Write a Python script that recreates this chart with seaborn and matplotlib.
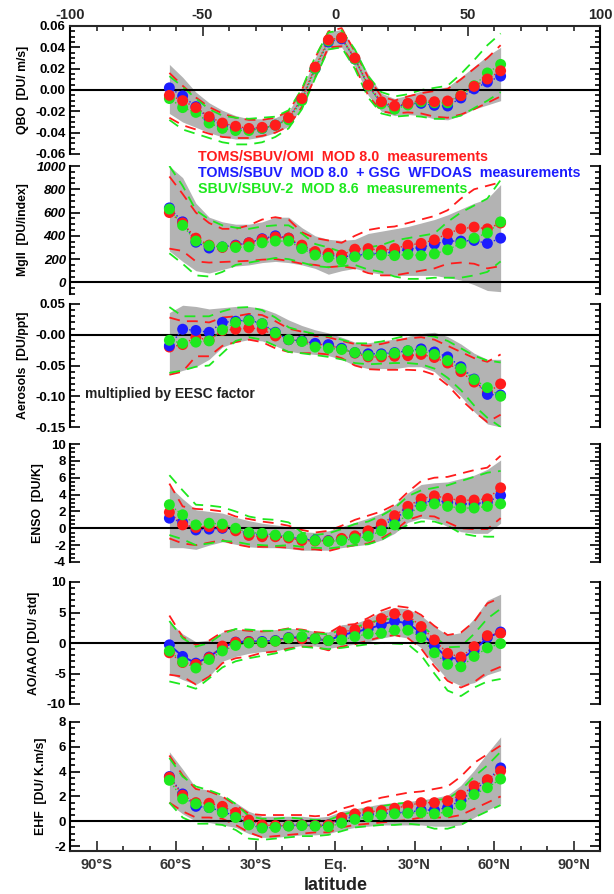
import matplotlib
matplotlib.use("Agg")
import matplotlib.pyplot as plt
from matplotlib.ticker import MultipleLocator, FixedLocator, FixedFormatter
import seaborn as sns

# latitude of each zonal band
lat = [-62.5, -57.5, -52.5, -47.5, -42.5, -37.5, -32.5, -27.5, -22.5, -17.5, -12.5, -7.5, -2.5,
       2.5, 7.5, 12.5, 17.5, 22.5, 27.5, 32.5, 37.5, 42.5, 47.5, 52.5, 57.5, 62.5]

# ---- QBO
qbo_red = [-0.005, -0.010, -0.0165, -0.025, -0.031, -0.034, -0.036, -0.035, -0.033, -0.026, -0.008, 0.0215, 0.047,
           0.049, 0.030, 0.0047, -0.011, -0.015, -0.0125, -0.0094, -0.011, -0.0103, -0.0053, 0.0034, 0.0103, 0.018]
qbo_blue = [0.002, -0.0056, -0.0156, -0.027, -0.033, -0.036, -0.037, -0.036, -0.033, -0.027, -0.009, 0.020, 0.045,
            0.048, 0.029, 0.004, -0.012, -0.016, -0.013, -0.0125, -0.0144, -0.015, -0.0075, 0.001, 0.0075, 0.013]
qbo_green = [-0.008, -0.0165, -0.021, -0.031, -0.036, -0.038, -0.038, -0.036, -0.033, -0.028, -0.010, 0.020, 0.046,
             0.049, 0.029, 0.004, -0.013, -0.018, -0.014, -0.011, -0.012, -0.012, -0.005, 0.004, 0.016, 0.024]
qbo_band_hi = [0.024, 0.012, -0.002, -0.012, -0.019, -0.024, -0.027, -0.027, -0.026, -0.020, 0.000, 0.030, 0.054,
               0.057, 0.038, 0.015, -0.003, -0.008, -0.005, -0.001, 0.001, 0.003, 0.012, 0.022, 0.032, 0.040]
qbo_band_lo = [-0.022, -0.030, -0.035, -0.040, -0.044, -0.046, -0.046, -0.044, -0.040, -0.034, -0.016, 0.012, 0.038,
               0.040, 0.022, -0.005, -0.020, -0.024, -0.023, -0.024, -0.027, -0.028, -0.024, -0.018, -0.014, -0.010]
qbo_red_hi = [0.016, 0.004, -0.007, -0.016, -0.022, -0.026, -0.028, -0.028, -0.026, -0.020, 0.000, 0.030, 0.055,
              0.058, 0.036, 0.012, -0.006, -0.010, -0.006, -0.003, -0.001, 0.001, 0.010, 0.020, 0.030, 0.042]
qbo_red_lo = [-0.026, -0.033, -0.037, -0.041, -0.044, -0.045, -0.045, -0.043, -0.040, -0.034, -0.016, 0.012, 0.040,
              0.041, 0.022, -0.005, -0.020, -0.022, -0.021, -0.022, -0.025, -0.026, -0.023, -0.018, -0.012, -0.006]
qbo_green_hi = [0.013, 0.003, -0.008, -0.018, -0.024, -0.026, -0.027, -0.026, -0.025, -0.019, 0.001, 0.031, 0.054,
                0.056, 0.038, 0.013, -0.002, -0.006, -0.004, 0.000, 0.002, 0.004, 0.015, 0.028, 0.042, 0.053]
qbo_green_lo = [-0.028, -0.037, -0.041, -0.045, -0.049, -0.051, -0.051, -0.049, -0.044, -0.036, -0.018, 0.011, 0.038,
                0.040, 0.020, -0.007, -0.022, -0.025, -0.024, -0.025, -0.027, -0.027, -0.024, -0.017, -0.010, -0.002]

# ---- MgII
mg_red = [600, 510, 380, 320, 300, 315, 340, 370, 390, 380, 320, 265, 250,
          235, 285, 290, 275, 290, 320, 335, 365, 420, 460, 475, 460, 510]
mg_blue = [640, 520, 345, 295, 305, 320, 340, 375, 400, 380, 300, 255, 235,
           220, 230, 245, 250, 260, 285, 300, 330, 355, 355, 360, 335, 380]
mg_green = [630, 490, 355, 315, 305, 300, 305, 340, 355, 355, 290, 235, 215,
            190, 220, 240, 235, 230, 240, 230, 245, 280, 335, 380, 425, 520]
mg_band_hi = [1000, 900, 680, 560, 520, 500, 500, 520, 560, 560, 470, 400, 370,
              360, 370, 420, 440, 460, 480, 510, 540, 580, 630, 680, 720, 840]
mg_band_lo = [270, 180, 100, 80, 110, 140, 150, 170, 180, 170, 150, 120, 70,
              100, 120, 90, 70, 60, 60, 60, 60, 40, 20, -20, -70, -80]
mg_red_hi = [910, 760, 600, 510, 460, 460, 490, 540, 560, 540, 430, 380, 360,
             340, 400, 450, 470, 480, 510, 540, 570, 620, 720, 800, 830, 860]
mg_red_lo = [290, 270, 180, 170, 175, 180, 185, 195, 200, 185, 160, 150, 130,
             140, 120, 80, 60, 60, 80, 100, 120, 160, 170, 160, 120, 140]
mg_green_hi = [1000, 830, 620, 540, 490, 470, 460, 480, 490, 490, 420, 330, 300,
               260, 290, 300, 320, 360, 380, 400, 420, 520, 600, 660, 720, 880]
mg_green_lo = [250, 160, 60, 50, 90, 150, 170, 190, 210, 200, 170, 140, 130,
               140, 150, 110, 90, 50, 30, 30, 40, 40, 40, 60, 90, 180]

# ---- Aerosols
aer_red = [-0.020, -0.016, -0.004, -0.009, 0.007, 0.009, 0.011, 0.009, -0.002, -0.008, -0.010, -0.015, -0.017,
           -0.023, -0.030, -0.036, -0.036, -0.035, -0.034, -0.032, -0.037, -0.046, -0.060, -0.077, -0.094, -0.080]
aer_blue = [-0.018, 0.009, 0.007, 0.004, 0.020, 0.022, 0.024, 0.018, 0.004, -0.008, -0.010, -0.014, -0.016,
            -0.022, -0.029, -0.031, -0.031, -0.029, -0.026, -0.023, -0.028, -0.036, -0.052, -0.072, -0.097, -0.098]
aer_green = [-0.009, -0.014, -0.012, -0.010, 0.008, 0.020, 0.023, 0.018, 0.003, -0.008, -0.011, -0.020, -0.022,
             -0.024, -0.029, -0.034, -0.033, -0.030, -0.026, -0.026, -0.032, -0.042, -0.055, -0.073, -0.086, -0.100]
aer_band_hi = [0.036, 0.048, 0.046, 0.042, 0.044, 0.046, 0.046, 0.043, 0.035, 0.024, 0.015, 0.008, 0.003,
               -0.004, -0.012, -0.013, -0.010, -0.007, -0.003, 0.002, 0.004, -0.003, -0.015, -0.030, -0.040, -0.040]
aer_band_lo = [-0.065, -0.058, -0.052, -0.040, -0.020, -0.012, -0.008, -0.010, -0.018, -0.027, -0.030, -0.032, -0.034,
               -0.040, -0.050, -0.055, -0.055, -0.055, -0.052, -0.052, -0.060, -0.080, -0.100, -0.125, -0.145, -0.150]
aer_red_hi = [0.028, 0.022, 0.022, 0.020, 0.028, 0.030, 0.034, 0.032, 0.022, 0.010, 0.005, -0.002, -0.004,
              -0.010, -0.015, -0.018, -0.015, -0.010, -0.006, -0.004, -0.008, -0.018, -0.028, -0.038, -0.044, -0.032]
aer_red_lo = [-0.065, -0.060, -0.035, -0.035, -0.018, -0.012, -0.008, -0.012, -0.022, -0.028, -0.030, -0.030, -0.032,
              -0.038, -0.050, -0.056, -0.057, -0.057, -0.057, -0.058, -0.065, -0.082, -0.105, -0.125, -0.142, -0.130]
aer_green_hi = [0.045, 0.030, 0.030, 0.030, 0.038, 0.044, 0.045, 0.040, 0.028, 0.012, 0.006, 0.001, -0.002,
                -0.008, -0.014, -0.014, -0.011, -0.006, -0.001, 0.000, -0.003, -0.010, -0.022, -0.034, -0.042, -0.045]
aer_green_lo = [-0.062, -0.058, -0.052, -0.050, -0.030, -0.010, -0.004, -0.008, -0.018, -0.028, -0.030, -0.033, -0.036,
                -0.040, -0.046, -0.048, -0.047, -0.046, -0.046, -0.048, -0.055, -0.070, -0.090, -0.115, -0.135, -0.150]

# ---- ENSO
enso_red = [1.9, 0.4, 0.1, 0.2, 0.1, -0.3, -0.85, -1.0, -1.0, -1.15, -1.45, -1.5, -1.5,
            -1.2, -0.9, -0.3, 0.5, 1.5, 2.6, 3.5, 3.85, 3.55, 3.3, 3.35, 3.5, 4.8]
enso_blue = [1.2, 0.7, -0.2, -0.1, 0.0, -0.2, -0.6, -0.8, -0.9, -1.0, -1.3, -1.4, -1.45,
             -1.3, -1.0, -0.5, 0.3, 1.1, 2.2, 3.0, 3.3, 3.1, 2.9, 2.9, 3.1, 3.9]
enso_green = [2.8, 1.6, 0.4, 0.6, 0.5, 0.0, -0.5, -0.6, -0.8, -0.95, -1.2, -1.45, -1.55,
              -1.45, -1.25, -0.95, -0.3, 0.4, 1.7, 2.6, 2.9, 2.6, 2.4, 2.4, 2.6, 2.9]
enso_band_hi = [5.0, 3.5, 2.2, 2.0, 1.8, 1.3, 0.9, 0.6, 0.4, 0.2, -0.4, -0.5, -0.3,
                0.2, 0.7, 1.2, 1.8, 2.8, 4.2, 5.2, 5.4, 5.5, 5.9, 6.3, 7.0, 8.1]
enso_band_lo = [-2.3, -2.3, -2.5, -2.0, -1.6, -1.9, -2.2, -2.3, -2.3, -2.4, -2.6, -2.6, -2.6,
                -2.3, -2.1, -1.9, -1.4, -0.6, 0.7, 1.2, 1.0, 0.2, -0.4, -0.6, -0.6, 0.6]
enso_red_hi = [5.3, 2.6, 2.3, 2.2, 2.0, 1.4, 1.1, 0.8, 0.6, 0.3, -0.2, -0.5, -0.3,
               0.3, 1.0, 1.5, 2.0, 2.8, 4.3, 5.6, 6.0, 6.1, 6.5, 6.9, 7.2, 8.6]
enso_red_lo = [-1.2, -1.8, -2.0, -1.7, -1.4, -1.9, -2.2, -2.2, -2.2, -2.3, -2.5, -2.5, -2.7,
               -2.3, -2.0, -1.8, -1.2, -0.3, 1.0, 1.5, 1.4, 0.7, 0.0, -0.1, -0.1, 1.2]
enso_green_hi = [6.3, 4.5, 2.8, 2.7, 2.5, 2.0, 1.4, 1.1, 1.0, 0.7, -0.5, -0.8, -0.6,
                 -0.1, 0.5, 0.8, 1.5, 2.4, 3.8, 4.5, 4.8, 5.1, 5.6, 6.1, 6.6, 6.8]
enso_green_lo = [-0.8, -1.3, -2.0, -1.8, -1.5, -1.6, -1.9, -2.0, -2.1, -2.0, -2.2, -2.3, -2.4,
                 -2.2, -2.0, -1.9, -1.4, -0.4, 0.4, 0.8, 0.8, 0.3, -0.6, -0.9, -1.0, -1.0]

# ---- AO/AAO
ao_red = [-1.6, -3.2, -3.5, -2.4, -0.5, 0.1, 0.2, 0.1, 0.3, 0.8, 0.7, 0.7, 0.4,
          1.8, 2.2, 3.0, 4.0, 4.8, 4.5, 2.7, 0.5, -1.7, -2.3, -0.6, 1.2, 1.6]
ao_blue = [-0.3, -2.2, -3.3, -2.3, -0.7, 0.15, 0.25, 0.25, 0.4, 0.9, 0.9, 0.7, 0.4,
           1.3, 1.8, 2.3, 3.0, 3.6, 3.2, 1.7, -0.5, -2.4, -2.6, -1.2, 0.9, 1.8]
ao_green = [-1.3, -3.1, -4.1, -2.7, -1.3, -0.4, 0.0, 0.1, 0.3, 0.8, 1.05, 0.7, 0.4,
            0.5, 1.05, 1.5, 1.6, 2.1, 2.1, 0.9, -1.6, -3.5, -3.9, -2.2, -0.8, -0.1]
ao_band_hi = [3.5, 1.5, 0.2, 0.5, 1.8, 2.2, 2.2, 2.1, 2.2, 2.4, 2.3, 1.9, 1.8,
              3.0, 3.2, 4.0, 5.2, 5.8, 5.6, 4.5, 2.7, 1.3, 1.7, 4.0, 7.0, 8.0]
ao_band_lo = [-5.0, -6.0, -6.8, -5.5, -3.0, -2.2, -1.7, -1.4, -1.3, -0.8, -0.4, -0.5, -0.9,
              -0.5, -0.2, 0.2, 0.8, 1.2, 0.8, -0.8, -3.5, -6.0, -7.0, -6.5, -5.2, -4.5]
ao_red_hi = [4.5, 1.0, -0.3, 0.4, 1.8, 2.2, 2.0, 1.9, 2.0, 2.4, 2.2, 1.8, 1.6,
             2.9, 3.1, 4.1, 5.3, 6.1, 5.8, 4.6, 2.8, 1.3, 1.7, 3.5, 6.5, 7.4]
ao_red_lo = [-5.2, -5.5, -6.8, -5.5, -3.3, -2.5, -2.2, -1.6, -1.4, -0.9, -0.6, -0.6, -1.2,
             -0.6, -0.2, 0.4, 1.0, 1.3, 0.8, -0.9, -3.8, -6.2, -7.3, -6.4, -4.8, -3.9]
ao_green_hi = [3.6, 0.8, -0.6, 0.0, 1.5, 2.3, 2.2, 2.0, 2.0, 2.3, 2.1, 1.6, 1.4,
               2.2, 2.5, 3.3, 3.8, 4.0, 3.9, 2.9, 1.1, -0.7, -0.6, 1.5, 4.0, 5.6]
ao_green_lo = [-6.3, -6.8, -7.5, -5.8, -4.0, -3.0, -2.5, -2.1, -1.7, -1.1, -0.6, -0.8, -1.0,
               -0.8, -0.5, -0.2, 0.0, -0.1, -0.2, -2.0, -5.0, -7.8, -8.7, -7.3, -6.3, -5.9]

# ---- EHF
ehf_red = [3.55, 2.1, 1.5, 1.45, 1.2, 0.7, 0.1, -0.3, -0.35, -0.35, -0.3, -0.35, -0.3,
           0.3, 0.6, 0.75, 0.85, 1.05, 1.25, 1.5, 1.5, 1.65, 2.1, 2.85, 3.35, 4.05]
ehf_blue = [3.6, 2.2, 1.2, 1.1, 0.8, 0.4, -0.2, -0.5, -0.4, -0.35, -0.3, -0.35, -0.3,
            0.1, 0.4, 0.55, 0.6, 0.7, 0.7, 0.9, 0.9, 1.1, 1.7, 2.5, 3.3, 4.3]
ehf_green = [3.3, 1.8, 1.4, 1.1, 0.7, 0.3, -0.3, -0.55, -0.5, -0.4, -0.35, -0.4, -0.45,
             -0.15, 0.15, 0.35, 0.5, 0.6, 0.65, 0.7, 0.6, 0.75, 1.3, 2.15, 2.7, 3.4]
ehf_band_hi = [5.6, 4.2, 2.7, 2.5, 2.0, 1.5, 0.8, 0.4, 0.4, 0.4, 0.4, 0.3, 0.4,
               0.8, 1.0, 1.2, 1.4, 1.5, 1.6, 1.7, 1.9, 2.1, 2.9, 4.1, 5.5, 6.8]
ehf_band_lo = [1.4, 0.6, 0.0, -0.1, -0.3, -0.5, -1.0, -1.3, -1.3, -1.2, -1.1, -1.1, -1.0,
               -0.7, -0.5, -0.4, -0.3, -0.3, -0.3, -0.3, -0.4, -0.4, -0.3, 0.3, 0.9, 1.4]
ehf_red_hi = [5.3, 3.7, 2.6, 2.4, 2.0, 1.3, 0.6, 0.5, 0.5, 0.5, 0.5, 0.4, 0.5,
              1.0, 1.3, 1.6, 1.9, 2.1, 2.3, 2.4, 2.6, 2.8, 3.6, 4.7, 5.4, 6.1]
ehf_red_lo = [1.5, 0.8, 0.3, 0.3, 0.2, -0.3, -0.9, -1.3, -1.2, -1.1, -1.0, -0.9, -0.9,
              -0.5, -0.3, -0.2, -0.1, 0.0, 0.1, 0.3, 0.3, 0.3, 0.5, 1.0, 1.5, 2.0]
ehf_green_hi = [5.1, 3.6, 2.8, 2.5, 2.1, 1.4, 0.4, 0.2, 0.2, 0.3, 0.2, 0.1, 0.1,
                0.5, 0.8, 1.0, 1.2, 1.4, 1.5, 1.6, 1.7, 1.8, 2.5, 3.6, 4.5, 5.6]
ehf_green_lo = [1.5, 0.3, -0.2, -0.2, -0.3, -0.7, -1.4, -1.5, -1.4, -1.3, -1.2, -1.2, -1.1,
                -0.8, -0.5, -0.4, -0.3, -0.3, -0.2, -0.3, -0.6, -0.6, -0.3, 0.3, 0.8, 1.3]

# tick labels
qbo_ticks = [0.06, 0.04, 0.02, 0.0, -0.02, -0.04, -0.06]
qbo_labels = ["0.06", "0.04", "0.02", "0.00", "-0.02", "-0.04", "-0.06"]
mg_ticks = [1000, 800, 600, 400, 200, 0]
mg_labels = ["1000", "800", "600", "400", "200", "0"]
aer_ticks = [0.05, 0.0, -0.05, -0.10, -0.15]
aer_labels = ["0.05", "-0.00", "-0.05", "-0.10", "-0.15"]
enso_ticks = [10, 8, 6, 4, 2, 0, -2, -4]
enso_labels = ["10", "8", "6", "4", "2", "0", "-2", "-4"]
ao_ticks = [10, 5, 0, -5, -10]
ao_labels = ["10", "5", "0", "-5", "-10"]
ehf_ticks = [8, 6, 4, 2, 0, -2]
ehf_labels = ["8", "6", "4", "2", "0", "-2"]
top_ticks = [-100, -50, 0, 50, 100]
top_labels = ["-100", "-50", "0", "50", "100"]
lat_ticks = [-90, -60, -30, 0, 30, 60, 90]
lat_labels = ["90°S", "60°S", "30°S", "Eq.", "30°N", "60°N", "90°N"]

RED = "#ff1c1c"
BLUE = "#1c1cff"
GREEN = "#1ee81e"
GRAY = "#b3b3b3"

sns.set_theme(style="ticks")
plt.rcParams["font.family"] = ["Liberation Sans", "DejaVu Sans"]
plt.rcParams["font.weight"] = "bold"
plt.rcParams["axes.unicode_minus"] = False

W, H = 614, 894
fig = plt.figure(figsize=(W / 100, H / 100), dpi=100)
fig.patch.set_facecolor("white")

panels = [
    dict(name="QBO  [DU/ m/s]", top=26, bottom=154, ylim=(-0.06, 0.06), minor=0.005,
         ticks=qbo_ticks, labels=qbo_labels, red=qbo_red, blue=qbo_blue, green=qbo_green,
         band=(qbo_band_lo, qbo_band_hi), rdash=(qbo_red_lo, qbo_red_hi), gdash=(qbo_green_lo, qbo_green_hi),
         order=["blue", "green", "red"], italic=False),
    dict(name="MgII  [DU/index]", top=166, bottom=294, ylim=(-100, 1000), minor=50,
         ticks=mg_ticks, labels=mg_labels, red=mg_red, blue=mg_blue, green=mg_green,
         band=(mg_band_lo, mg_band_hi), rdash=(mg_red_lo, mg_red_hi), gdash=(mg_green_lo, mg_green_hi),
         order=["blue", "red", "green"], italic=True),
    dict(name="Aerosols  [DU/ppt]", top=304, bottom=427, ylim=(-0.15, 0.05), minor=0.01,
         ticks=aer_ticks, labels=aer_labels, red=aer_red, blue=aer_blue, green=aer_green,
         band=(aer_band_lo, aer_band_hi), rdash=(aer_red_lo, aer_red_hi), gdash=(aer_green_lo, aer_green_hi),
         order=["red", "blue", "green"], italic=False),
    dict(name="ENSO  [DU/K]", top=444, bottom=562, ylim=(-4, 10), minor=0.5,
         ticks=enso_ticks, labels=enso_labels, red=enso_red, blue=enso_blue, green=enso_green,
         band=(enso_band_lo, enso_band_hi), rdash=(enso_red_lo, enso_red_hi), gdash=(enso_green_lo, enso_green_hi),
         order=["blue", "red", "green"], italic=False),
    dict(name="AO/AAO [DU/ std]", top=582, bottom=704, ylim=(-10, 10), minor=1,
         ticks=ao_ticks, labels=ao_labels, red=ao_red, blue=ao_blue, green=ao_green,
         band=(ao_band_lo, ao_band_hi), rdash=(ao_red_lo, ao_red_hi), gdash=(ao_green_lo, ao_green_hi),
         order=["blue", "red", "green"], italic=False),
    dict(name="EHF  [DU/ K.m/s]", top=722, bottom=851, ylim=(-2.4, 8), minor=0.5,
         ticks=ehf_ticks, labels=ehf_labels, red=ehf_red, blue=ehf_blue, green=ehf_green,
         band=(ehf_band_lo, ehf_band_hi), rdash=(ehf_red_lo, ehf_red_hi), gdash=(ehf_green_lo, ehf_green_hi),
         order=["blue", "red", "green"], italic=False),
]
colors = {"red": RED, "blue": BLUE, "green": GREEN}

x_left, x_right = 70, 600
axes = []
for i, p in enumerate(panels):
    ax = fig.add_axes([x_left / W, 1 - p["bottom"] / H, (x_right - x_left) / W, (p["bottom"] - p["top"]) / H])
    ax.set_facecolor("none")
    axes.append(ax)

    ax.fill_between(lat, p["band"][0], p["band"][1], color=GRAY, lw=0, zorder=1)
    for line, col in [(p["rdash"][0], RED), (p["rdash"][1], RED), (p["gdash"][0], GREEN), (p["gdash"][1], GREEN)]:
        sns.lineplot(x=lat, y=line, ax=ax, color=col, lw=1.3, linestyle=(0, (6, 4)),
                     estimator=None, sort=False, zorder=2)
    ax.axhline(0, color="black", lw=1.5, zorder=3)

    for key in p["order"]:
        vals = p[key]
        if i == 4 and key == "blue":
            sns.lineplot(x=lat, y=vals, ax=ax, color=BLUE, lw=1.4, estimator=None, sort=False, zorder=4)
        else:
            sns.lineplot(x=lat, y=vals, ax=ax, color=colors[key], lw=1.0, linestyle=(0, (1, 1.5)),
                         estimator=None, sort=False, zorder=4)
    for key in p["order"]:
        sns.scatterplot(x=lat, y=p[key], ax=ax, color=colors[key], s=62, edgecolor="none",
                        linewidth=0, zorder=5)

    ax.set_xlim(-100, 100)
    ax.set_ylim(*p["ylim"])
    ax.yaxis.set_major_locator(FixedLocator(p["ticks"]))
    ax.yaxis.set_major_formatter(FixedFormatter(p["labels"]))
    ax.yaxis.set_minor_locator(MultipleLocator(p["minor"]))
    ax.tick_params(axis="y", which="both", direction="in", left=True, right=True, width=1.2, colors="black",
                   labelsize=9.5, pad=3)
    ax.tick_params(axis="y", which="major", length=7)
    ax.tick_params(axis="y", which="minor", length=3.5)
    for lab in ax.get_yticklabels():
        lab.set_fontweight("bold")
        if p["italic"]:
            lab.set_fontstyle("italic")
    ax.set_ylabel(p["name"], fontsize=8.8, fontweight="bold", labelpad=5, color="black")
    ax.set_xlabel("")

    for side in ["left", "right"]:
        ax.spines[side].set_linewidth(1.5)
        ax.spines[side].set_color("black")
    ax.spines["top"].set_visible(i == 0)
    ax.spines["bottom"].set_visible(i == len(panels) - 1)
    ax.spines["top"].set_linewidth(1.5)
    ax.spines["bottom"].set_linewidth(1.5)

    if i == 0:
        ax.xaxis.tick_top()
        ax.xaxis.set_major_locator(FixedLocator(top_ticks))
        ax.xaxis.set_major_formatter(FixedFormatter(top_labels))
        ax.xaxis.set_minor_locator(MultipleLocator(10))
        ax.tick_params(axis="x", which="both", direction="in", top=True, bottom=False,
                       labeltop=True, labelbottom=False, width=1.2, labelsize=10.5, pad=3)
        ax.tick_params(axis="x", which="major", length=7)
        ax.tick_params(axis="x", which="minor", length=3.5)
        for lab in ax.get_xticklabels():
            lab.set_fontweight("bold")
    elif i == len(panels) - 1:
        ax.xaxis.set_major_locator(FixedLocator(lat_ticks))
        ax.xaxis.set_major_formatter(FixedFormatter(lat_labels))
        ax.xaxis.set_minor_locator(MultipleLocator(10))
        ax.tick_params(axis="x", which="both", direction="in", top=False, bottom=True,
                       labelbottom=True, width=1.2, labelsize=10.5, pad=5, labelcolor="#333333")
        ax.tick_params(axis="x", which="major", length=7)
        ax.tick_params(axis="x", which="minor", length=3.5)
        for lab in ax.get_xticklabels():
            lab.set_fontweight("bold")
    else:
        ax.tick_params(axis="x", which="both", top=False, bottom=False, labelbottom=False, labeltop=False)

fig.text(198 / W, 1 - 157 / H, "TOMS/SBUV/OMI  MOD 8.0  measurements", color=RED,
         fontsize=10.3, fontweight="bold", va="center", ha="left")
fig.text(198 / W, 1 - 173 / H, "TOMS/SBUV  MOD 8.0  + GSG  WFDOAS  measurements", color=BLUE,
         fontsize=10.3, fontweight="bold", va="center", ha="left")
fig.text(198 / W, 1 - 189 / H, "SBUV/SBUV-2  MOD 8.6  measurements", color=GREEN,
         fontsize=10.3, fontweight="bold", va="center", ha="left")
fig.text(85 / W, 1 - 394 / H, "multiplied by EESC factor", color="#222222",
         fontsize=10, fontweight="bold", va="center", ha="left")
fig.text(336 / W, 1 - 885 / H, "latitude", color="#222222", fontsize=13, fontweight="bold",
         va="center", ha="center")

fig.savefig("out.png", dpi=100)
